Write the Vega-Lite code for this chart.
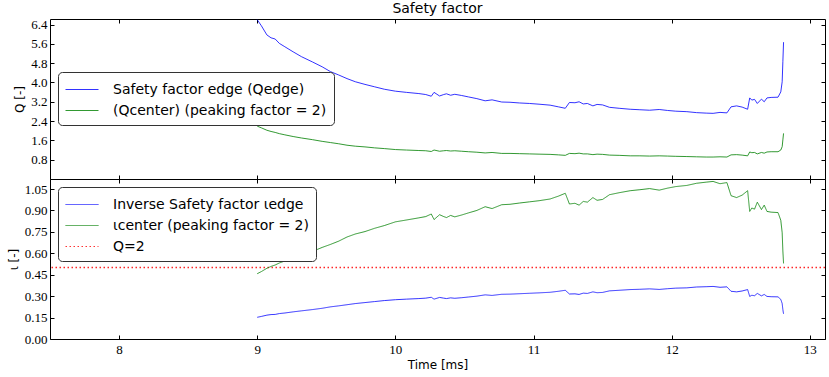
{
  "$schema": "https://vega.github.io/schema/vega-lite/v6.json",
  "padding": {"left": 6, "top": 1, "right": 2, "bottom": 2},
  "config": {
    "view": {"stroke": "#000", "strokeWidth": 1},
    "axis": {"grid": false, "domain": false, "tickSize": -4, "tickColor": "#000", "labelFont": "Liberation Serif", "labelFontSize": 13, "labelColor": "#000", "titleFont": "DejaVu Sans", "titleFontSize": 12, "titleFontWeight": "normal", "titleColor": "#000", "labelPadding": 7},
    "legend": {"symbolType": "M-1,0H2.3", "symbolSize": 400, "symbolStrokeWidth": 1, "labelFont": "DejaVu Sans", "labelFontSize": 14, "labelColor": "#000", "labelOffset": 27, "padding": 7, "rowPadding": 3, "strokeColor": "#333", "fillColor": "#fff", "cornerRadius": 4, "labelLimit": 400},
    "title": {"font": "DejaVu Sans", "fontSize": 14, "fontWeight": "normal", "color": "#000", "offset": 2}
  },
  "datasets": {
    "q": [
      {"t": 9.00, "qe": 6.60, "qc": 2.19, "ie": 0.152, "ic": 0.457},
      {"t": 9.03, "qe": 6.35, "qc": 2.12, "ie": 0.158, "ic": 0.472},
      {"t": 9.07, "qe": 5.97, "qc": 2.02, "ie": 0.167, "ic": 0.495},
      {"t": 9.10, "qe": 5.85, "qc": 1.97, "ie": 0.171, "ic": 0.508},
      {"t": 9.13, "qe": 5.80, "qc": 1.93, "ie": 0.172, "ic": 0.518},
      {"t": 9.16, "qe": 5.62, "qc": 1.88, "ie": 0.178, "ic": 0.532},
      {"t": 9.20, "qe": 5.48, "qc": 1.83, "ie": 0.182, "ic": 0.546},
      {"t": 9.26, "qe": 5.27, "qc": 1.76, "ie": 0.190, "ic": 0.568},
      {"t": 9.32, "qe": 5.07, "qc": 1.70, "ie": 0.197, "ic": 0.588},
      {"t": 9.40, "qe": 4.85, "qc": 1.63, "ie": 0.206, "ic": 0.613},
      {"t": 9.47, "qe": 4.65, "qc": 1.56, "ie": 0.215, "ic": 0.641},
      {"t": 9.53, "qe": 4.45, "qc": 1.51, "ie": 0.225, "ic": 0.662},
      {"t": 9.59, "qe": 4.31, "qc": 1.46, "ie": 0.232, "ic": 0.685},
      {"t": 9.65, "qe": 4.16, "qc": 1.40, "ie": 0.240, "ic": 0.714},
      {"t": 9.71, "qe": 4.03, "qc": 1.36, "ie": 0.248, "ic": 0.735},
      {"t": 9.78, "qe": 3.92, "qc": 1.33, "ie": 0.255, "ic": 0.752},
      {"t": 9.85, "qe": 3.82, "qc": 1.29, "ie": 0.262, "ic": 0.775},
      {"t": 9.92, "qe": 3.72, "qc": 1.26, "ie": 0.269, "ic": 0.794},
      {"t": 10.00, "qe": 3.64, "qc": 1.22, "ie": 0.275, "ic": 0.820},
      {"t": 10.08, "qe": 3.59, "qc": 1.20, "ie": 0.279, "ic": 0.833},
      {"t": 10.17, "qe": 3.54, "qc": 1.18, "ie": 0.283, "ic": 0.848},
      {"t": 10.22, "qe": 3.50, "qc": 1.17, "ie": 0.286, "ic": 0.857},
      {"t": 10.26, "qe": 3.43, "qc": 1.14, "ie": 0.292, "ic": 0.875},
      {"t": 10.28, "qe": 3.59, "qc": 1.20, "ie": 0.279, "ic": 0.836},
      {"t": 10.32, "qe": 3.44, "qc": 1.15, "ie": 0.291, "ic": 0.870},
      {"t": 10.35, "qe": 3.50, "qc": 1.17, "ie": 0.286, "ic": 0.857},
      {"t": 10.37, "qe": 3.53, "qc": 1.18, "ie": 0.283, "ic": 0.850},
      {"t": 10.40, "qe": 3.47, "qc": 1.16, "ie": 0.288, "ic": 0.865},
      {"t": 10.43, "qe": 3.51, "qc": 1.17, "ie": 0.285, "ic": 0.855},
      {"t": 10.48, "qe": 3.46, "qc": 1.15, "ie": 0.289, "ic": 0.868},
      {"t": 10.53, "qe": 3.40, "qc": 1.13, "ie": 0.294, "ic": 0.883},
      {"t": 10.59, "qe": 3.33, "qc": 1.11, "ie": 0.300, "ic": 0.900},
      {"t": 10.65, "qe": 3.24, "qc": 1.08, "ie": 0.309, "ic": 0.926},
      {"t": 10.70, "qe": 3.28, "qc": 1.10, "ie": 0.305, "ic": 0.913},
      {"t": 10.77, "qe": 3.19, "qc": 1.06, "ie": 0.313, "ic": 0.940},
      {"t": 10.83, "qe": 3.18, "qc": 1.06, "ie": 0.314, "ic": 0.943},
      {"t": 10.90, "qe": 3.15, "qc": 1.05, "ie": 0.317, "ic": 0.952},
      {"t": 10.97, "qe": 3.13, "qc": 1.04, "ie": 0.320, "ic": 0.960},
      {"t": 11.04, "qe": 3.10, "qc": 1.03, "ie": 0.323, "ic": 0.968},
      {"t": 11.12, "qe": 3.06, "qc": 1.02, "ie": 0.327, "ic": 0.980},
      {"t": 11.18, "qe": 2.99, "qc": 1.00, "ie": 0.334, "ic": 1.000},
      {"t": 11.23, "qe": 2.93, "qc": 0.98, "ie": 0.341, "ic": 1.020},
      {"t": 11.26, "qe": 3.17, "qc": 1.06, "ie": 0.315, "ic": 0.945},
      {"t": 11.30, "qe": 3.16, "qc": 1.05, "ie": 0.316, "ic": 0.950},
      {"t": 11.33, "qe": 3.20, "qc": 1.07, "ie": 0.312, "ic": 0.937},
      {"t": 11.36, "qe": 3.11, "qc": 1.04, "ie": 0.321, "ic": 0.963},
      {"t": 11.39, "qe": 3.13, "qc": 1.04, "ie": 0.319, "ic": 0.958},
      {"t": 11.43, "qe": 3.03, "qc": 1.01, "ie": 0.330, "ic": 0.990},
      {"t": 11.46, "qe": 3.09, "qc": 1.03, "ie": 0.324, "ic": 0.971},
      {"t": 11.50, "qe": 3.07, "qc": 1.02, "ie": 0.326, "ic": 0.977},
      {"t": 11.55, "qe": 2.97, "qc": 0.99, "ie": 0.337, "ic": 1.010},
      {"t": 11.62, "qe": 2.93, "qc": 0.98, "ie": 0.341, "ic": 1.024},
      {"t": 11.70, "qe": 2.89, "qc": 0.96, "ie": 0.346, "ic": 1.038},
      {"t": 11.77, "qe": 2.87, "qc": 0.96, "ie": 0.348, "ic": 1.045},
      {"t": 11.84, "qe": 2.85, "qc": 0.95, "ie": 0.351, "ic": 1.053},
      {"t": 11.91, "qe": 2.88, "qc": 0.96, "ie": 0.347, "ic": 1.042},
      {"t": 11.97, "qe": 2.84, "qc": 0.95, "ie": 0.352, "ic": 1.056},
      {"t": 12.03, "qe": 2.81, "qc": 0.94, "ie": 0.356, "ic": 1.067},
      {"t": 12.11, "qe": 2.79, "qc": 0.93, "ie": 0.358, "ic": 1.075},
      {"t": 12.18, "qe": 2.75, "qc": 0.92, "ie": 0.364, "ic": 1.090},
      {"t": 12.25, "qe": 2.73, "qc": 0.91, "ie": 0.366, "ic": 1.098},
      {"t": 12.30, "qe": 2.72, "qc": 0.91, "ie": 0.368, "ic": 1.103},
      {"t": 12.35, "qe": 2.76, "qc": 0.92, "ie": 0.362, "ic": 1.087},
      {"t": 12.40, "qe": 2.74, "qc": 0.91, "ie": 0.365, "ic": 1.095},
      {"t": 12.43, "qe": 2.99, "qc": 1.00, "ie": 0.334, "ic": 1.003},
      {"t": 12.47, "qe": 3.03, "qc": 1.01, "ie": 0.330, "ic": 0.990},
      {"t": 12.51, "qe": 2.98, "qc": 0.99, "ie": 0.336, "ic": 1.007},
      {"t": 12.55, "qe": 2.89, "qc": 0.96, "ie": 0.346, "ic": 1.038},
      {"t": 12.565, "qe": 3.36, "qc": 1.12, "ie": 0.298, "ic": 0.893},
      {"t": 12.58, "qe": 3.27, "qc": 1.09, "ie": 0.306, "ic": 0.917},
      {"t": 12.60, "qe": 3.30, "qc": 1.10, "ie": 0.303, "ic": 0.909},
      {"t": 12.62, "qe": 3.13, "qc": 1.04, "ie": 0.319, "ic": 0.958},
      {"t": 12.65, "qe": 3.31, "qc": 1.10, "ie": 0.302, "ic": 0.906},
      {"t": 12.67, "qe": 3.20, "qc": 1.07, "ie": 0.312, "ic": 0.937},
      {"t": 12.69, "qe": 3.36, "qc": 1.12, "ie": 0.298, "ic": 0.893},
      {"t": 12.72, "qe": 3.38, "qc": 1.13, "ie": 0.296, "ic": 0.888},
      {"t": 12.77, "qe": 3.39, "qc": 1.13, "ie": 0.295, "ic": 0.885},
      {"t": 12.79, "qe": 3.61, "qc": 1.20, "ie": 0.277, "ic": 0.831},
      {"t": 12.80, "qe": 4.03, "qc": 1.34, "ie": 0.248, "ic": 0.744},
      {"t": 12.805, "qe": 4.86, "qc": 1.62, "ie": 0.206, "ic": 0.617},
      {"t": 12.81, "qe": 5.67, "qc": 1.89, "ie": 0.176, "ic": 0.529}
    ],
    "ref": [{"series": "q2", "value": 0.5}]
  },
  "spacing": 0,
  "bounds": "flush",
  "resolve": {"scale": {"color": "independent", "strokeDash": "independent"}, "legend": {"color": "independent", "strokeDash": "independent"}},
  "vconcat": [
    {
      "title": "Safety factor",
      "width": 775,
      "height": 160,
      "data": {"name": "q"},
      "transform": [{"fold": ["qe", "qc"], "as": ["series", "value"]}],
      "layer": [
        {
          "mark": {"type": "line", "strokeWidth": 1, "opacity": 0.8},
          "encoding": {
            "x": {"field": "t", "type": "quantitative", "scale": {"domain": [7.5, 13.11], "nice": false, "zero": false}, "axis": {"orient": "bottom", "values": [8, 9, 10, 11, 12, 13], "labels": false, "title": null}},
            "y": {"field": "value", "type": "quantitative", "scale": {"domain": [0, 6.63], "nice": false}, "axis": {"orient": "left", "values": [0.8, 1.6, 2.4, 3.2, 4.0, 4.8, 5.6, 6.4], "format": ".1f", "title": "Q [-]"}},
            "color": {"field": "series", "type": "nominal", "scale": {"domain": ["qe", "qc"], "range": ["#0000ff", "#008000"]}, "legend": {"orient": "none", "legendX": 8, "legendY": 53, "title": null, "labelExpr": "datum.label == 'qe' ? 'Safety factor edge (Qedge)' : '(Qcenter) (peaking factor = 2)'"}}
          }
        },
        {
          "mark": {"type": "line", "strokeOpacity": 0},
          "encoding": {
            "x": {"field": "t", "type": "quantitative", "axis": {"orient": "top", "values": [8, 9, 10, 11, 12, 13], "labels": false, "title": null}},
            "y": {"field": "value", "type": "quantitative", "axis": {"orient": "right", "values": [0.8, 1.6, 2.4, 3.2, 4.0, 4.8, 5.6, 6.4], "labels": false, "title": null}},
            "detail": {"field": "series"}
          }
        }
      ],
      "resolve": {"axis": {"x": "independent", "y": "independent"}}
    },
    {
      "width": 775,
      "height": 160,
      "layer": [
        {
          "data": {"name": "ref"},
          "mark": {"type": "rule", "strokeWidth": 1.5, "color": "#ff0000", "strokeOpacity": 0.85, "strokeDash": [1.5, 2.5]},
          "encoding": {
            "y": {"field": "value", "type": "quantitative", "scale": {"domain": [0, 1.12], "nice": false}, "axis": null}
          }
        },
        {
          "data": {"name": "q"},
          "transform": [{"fold": ["ie", "ic"], "as": ["series", "value"]}],
          "mark": {"type": "line", "strokeWidth": 1, "opacity": 0.8},
          "encoding": {
            "x": {"field": "t", "type": "quantitative", "scale": {"domain": [7.5, 13.11], "nice": false, "zero": false}, "axis": {"orient": "bottom", "values": [8, 9, 10, 11, 12, 13], "format": "d", "title": "Time [ms]", "titlePadding": 3, "labelPadding": 8}},
            "y": {"field": "value", "type": "quantitative", "scale": {"domain": [0, 1.12], "nice": false}, "axis": {"orient": "left", "values": [0, 0.15, 0.3, 0.45, 0.6, 0.75, 0.9, 1.05], "format": ".2f", "title": "ι [-]"}},
            "color": {"field": "series", "type": "nominal", "scale": {"domain": ["ie", "ic", "q2"], "range": ["#0000ff", "#008000", "#ff0000"]}, "legend": {"orient": "none", "legendX": 8, "legendY": 8, "title": null, "labelExpr": "datum.label == 'ie' ? 'Inverse Safety factor ιedge' : datum.label == 'ic' ? 'ιcenter (peaking factor = 2)' : 'Q=2'"}},
            "strokeDash": {"field": "series", "type": "nominal", "scale": {"domain": ["ie", "ic", "q2"], "range": [[1, 0], [1, 0], [1.5, 2.5]]}, "legend": {"orient": "none", "legendX": 8, "legendY": 8, "title": null}}
          }
        },
        {
          "data": {"name": "q"},
          "transform": [{"fold": ["ie", "ic"], "as": ["series", "value"]}],
          "mark": {"type": "line", "strokeOpacity": 0},
          "encoding": {
            "x": {"field": "t", "type": "quantitative", "axis": {"orient": "top", "values": [8, 9, 10, 11, 12, 13], "labels": false, "title": null}},
            "y": {"field": "value", "type": "quantitative", "axis": {"orient": "right", "values": [0, 0.15, 0.3, 0.45, 0.6, 0.75, 0.9, 1.05], "labels": false, "title": null}},
            "detail": {"field": "series"}
          }
        }
      ],
      "resolve": {"axis": {"x": "independent", "y": "independent"}}
    }
  ]
}
